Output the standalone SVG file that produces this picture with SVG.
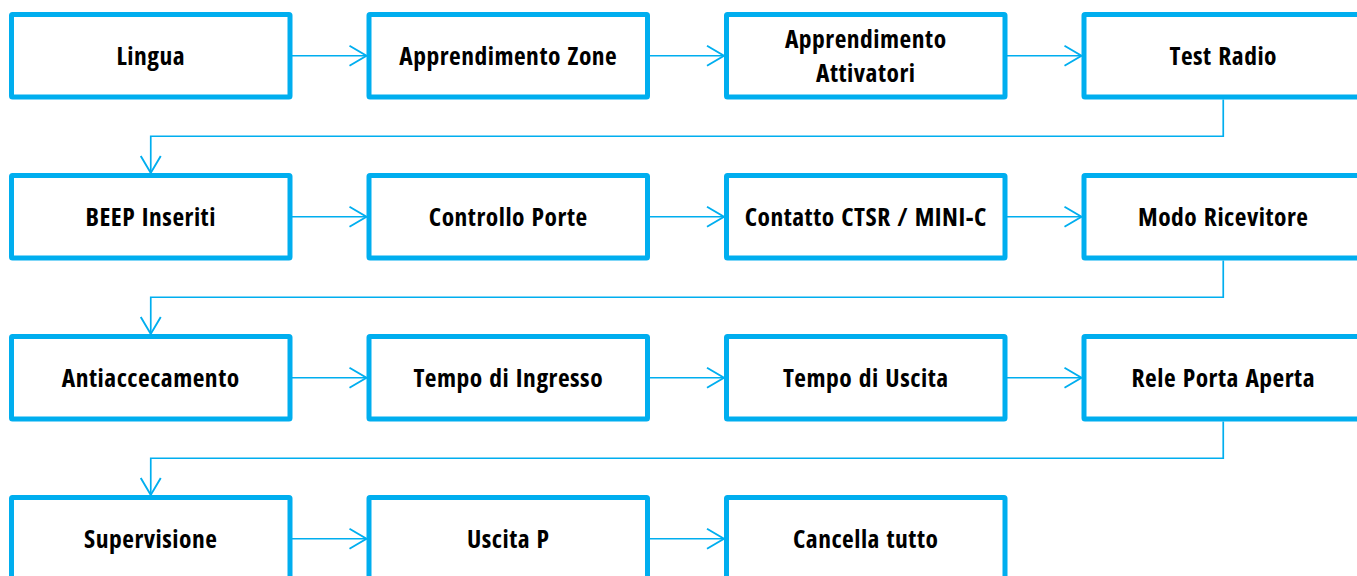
<svg xmlns="http://www.w3.org/2000/svg" width="1357" height="576" viewBox="0 0 1357 576">
<style>
.box{fill:#fff;stroke:#00AEEF;stroke-width:5;stroke-linejoin:round}
.lbl{font-family:"Open Sans","DejaVu Sans Condensed","Liberation Sans",sans-serif;font-stretch:condensed;font-weight:700;font-size:25.5px;letter-spacing:0.5px;word-spacing:1.5px;fill:#000;text-anchor:middle}
.con{fill:none;stroke:#00AEEF;stroke-width:1.7}
</style>
<defs>
<marker id="arr" markerUnits="userSpaceOnUse" markerWidth="24" markerHeight="24" viewBox="-20 -12 22 24" refX="0" refY="0" orient="auto">
<path d="M-17,-10 L0,0 L-17,10" fill="none" stroke="#00AEEF" stroke-width="1.9"/>
</marker>
</defs>
<rect width="1357" height="576" fill="#fff"/>
<g id="connectors">
<path class="con" marker-end="url(#arr)" d="M292,55.75 H366.5"/>
<path class="con" marker-end="url(#arr)" d="M649.5,55.75 H724"/>
<path class="con" marker-end="url(#arr)" d="M1007,55.75 H1081.5"/>
<path class="con" marker-end="url(#arr)" d="M1223.25,99.5 V136.25 H150.75 V173"/>
<path class="con" marker-end="url(#arr)" d="M292,216.75 H366.5"/>
<path class="con" marker-end="url(#arr)" d="M649.5,216.75 H724"/>
<path class="con" marker-end="url(#arr)" d="M1007,216.75 H1081.5"/>
<path class="con" marker-end="url(#arr)" d="M1223.25,260.5 V297.25 H150.75 V334"/>
<path class="con" marker-end="url(#arr)" d="M292,377.75 H366.5"/>
<path class="con" marker-end="url(#arr)" d="M649.5,377.75 H724"/>
<path class="con" marker-end="url(#arr)" d="M1007,377.75 H1081.5"/>
<path class="con" marker-end="url(#arr)" d="M1223.25,421.5 V458.25 H150.75 V495"/>
<path class="con" marker-end="url(#arr)" d="M292,538.75 H366.5"/>
<path class="con" marker-end="url(#arr)" d="M649.5,538.75 H724"/>
</g>
<g id="n1"><rect class="box" x="11.5" y="14.5" width="278.5" height="82.5" rx="1"/><text class="lbl" x="150.75" y="64.5">Lingua</text></g>
<g id="n2"><rect class="box" x="369" y="14.5" width="278.5" height="82.5" rx="1"/><text class="lbl" x="508.25" y="64.5">Apprendimento Zone</text></g>
<g id="n3"><rect class="box" x="726.5" y="14.5" width="278.5" height="82.5" rx="1"/><text class="lbl" x="865.75" y="48.3">Apprendimento</text><text class="lbl" x="865.75" y="81.7">Attivatori</text></g>
<g id="n4"><rect class="box" x="1084" y="14.5" width="278.5" height="82.5" rx="1"/><text class="lbl" x="1223.25" y="64.5">Test Radio</text></g>
<g id="n5"><rect class="box" x="11.5" y="175.5" width="278.5" height="82.5" rx="1"/><text class="lbl" x="150.75" y="225.5">BEEP Inseriti</text></g>
<g id="n6"><rect class="box" x="369" y="175.5" width="278.5" height="82.5" rx="1"/><text class="lbl" x="508.25" y="225.5">Controllo Porte</text></g>
<g id="n7"><rect class="box" x="726.5" y="175.5" width="278.5" height="82.5" rx="1"/><text class="lbl" x="865.75" y="225.5">Contatto CTSR / MINI-C</text></g>
<g id="n8"><rect class="box" x="1084" y="175.5" width="278.5" height="82.5" rx="1"/><text class="lbl" x="1223.25" y="225.5">Modo Ricevitore</text></g>
<g id="n9"><rect class="box" x="11.5" y="336.5" width="278.5" height="82.5" rx="1"/><text class="lbl" x="150.75" y="386.5">Antiaccecamento</text></g>
<g id="n10"><rect class="box" x="369" y="336.5" width="278.5" height="82.5" rx="1"/><text class="lbl" x="508.25" y="386.5">Tempo di Ingresso</text></g>
<g id="n11"><rect class="box" x="726.5" y="336.5" width="278.5" height="82.5" rx="1"/><text class="lbl" x="865.75" y="386.5">Tempo di Uscita</text></g>
<g id="n12"><rect class="box" x="1084" y="336.5" width="278.5" height="82.5" rx="1"/><text class="lbl" x="1223.25" y="386.5">Rele Porta Aperta</text></g>
<g id="n13"><rect class="box" x="11.5" y="497.5" width="278.5" height="82.5" rx="1"/><text class="lbl" x="150.75" y="547.5">Supervisione</text></g>
<g id="n14"><rect class="box" x="369" y="497.5" width="278.5" height="82.5" rx="1"/><text class="lbl" x="508.25" y="547.5">Uscita P</text></g>
<g id="n15"><rect class="box" x="726.5" y="497.5" width="278.5" height="82.5" rx="1"/><text class="lbl" x="865.75" y="547.5">Cancella tutto</text></g>
</svg>
